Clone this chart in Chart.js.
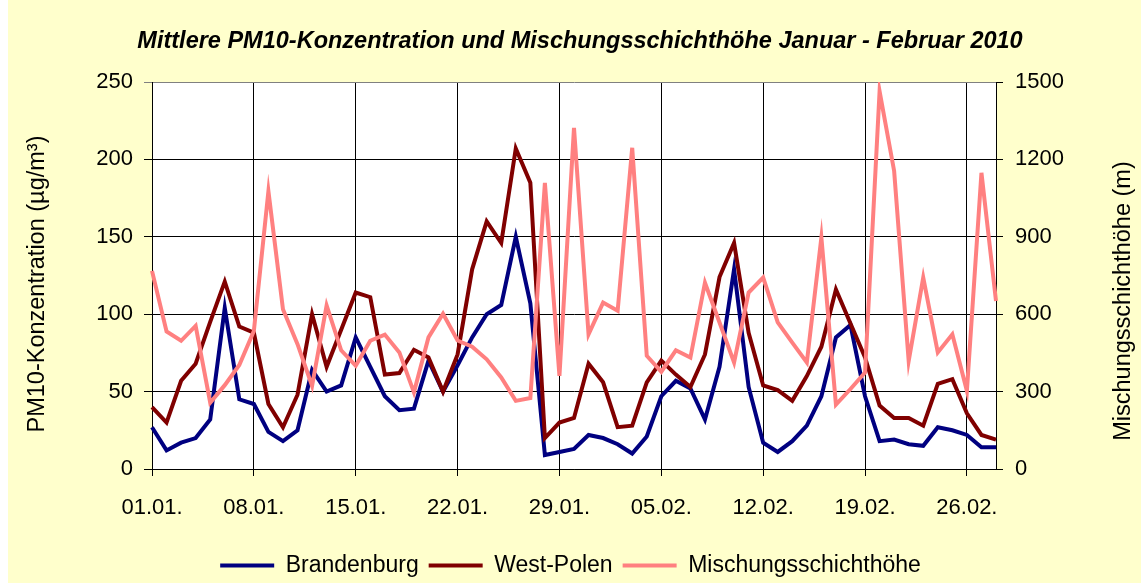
<!DOCTYPE html>
<html lang="de">
<head>
<meta charset="utf-8">
<title>PM10-Konzentration und Mischungsschichthöhe</title>
<script src="https://cdn.jsdelivr.net/npm/chart.js@4.4.1/dist/chart.umd.min.js"></script>
<style>
  html, body { margin: 0; padding: 0; background: #fff; }
  #wrap { width: 1141px; height: 583px; }
</style>
</head>
<body>
<div id="wrap"><canvas id="pmChart" width="1141" height="583"></canvas></div>
<script>
const days = [
  '01.01.', '02.01.', '03.01.', '04.01.', '05.01.', '06.01.', '07.01.', '08.01.', '09.01.', '10.01.',
  '11.01.', '12.01.', '13.01.', '14.01.', '15.01.', '16.01.', '17.01.', '18.01.', '19.01.', '20.01.',
  '21.01.', '22.01.', '23.01.', '24.01.', '25.01.', '26.01.', '27.01.', '28.01.', '29.01.', '30.01.',
  '31.01.', '01.02.', '02.02.', '03.02.', '04.02.', '05.02.', '06.02.', '07.02.', '08.02.', '09.02.',
  '10.02.', '11.02.', '12.02.', '13.02.', '14.02.', '15.02.', '16.02.', '17.02.', '18.02.', '19.02.',
  '20.02.', '21.02.', '22.02.', '23.02.', '24.02.', '25.02.', '26.02.', '27.02.', '28.02.'
];

// PM10 in µg/m³
const brandenburg = [
  27, 12, 17, 20, 32, 104, 45, 42, 24, 18,
  25, 64, 50, 54, 85, 66, 47, 38, 39, 70,
  50, 67, 85, 100, 106, 150, 107, 9, 11, 13,
  22, 20, 16, 10, 21, 47, 57, 52, 32, 66,
  129, 53, 17, 11, 18, 28, 47, 85, 93, 47,
  18, 19, 16, 15, 27, 25, 22, 14, 14
];
const westPolen = [
  40, 30, 57, 68, 95, 121, 92, 88, 42, 27,
  48, 100, 66, 90, 114, 111, 61, 62, 77, 72,
  50, 74, 129, 160, 146, 207, 185, 20, 30, 33,
  68, 56, 27, 28, 56, 70, 61, 53, 74, 124,
  146, 88, 54, 51, 44, 60, 79, 116, 94, 72,
  41, 33, 33, 28, 55, 58, 36, 22, 19
];
// Mischungsschichthöhe in m
const mischung = [
  768, 533, 497, 555, 257, 325, 403, 535, 1077, 619,
  484, 322, 634, 460, 400, 497, 521, 452, 297, 510,
  602, 498, 474, 425, 355, 264, 275, 1109, 361, 1322,
  522, 645, 613, 1245, 439, 377, 460, 432, 722, 568,
  413, 684, 742, 568, 490, 413, 897, 250, 310, 374,
  1464, 1155, 419, 742, 452, 522, 303, 1148, 651
];

const pmTicks = [0, 50, 100, 150, 200, 250];
const heightTicks = [0, 300, 600, 900, 1200, 1500];

const FONT = '"Liberation Sans", Arial, sans-serif';

// yellow chart area, white plot area
const backdrop = {
  id: 'backdrop',
  beforeDraw(chart) {
    const { ctx, chartArea: a } = chart;
    ctx.save();
    ctx.fillStyle = '#FFFFCC';
    ctx.fillRect(8, 0, chart.width - 8, chart.height);
    ctx.fillStyle = '#FFFFFF';
    ctx.fillRect(a.left, a.top, a.right - a.left, a.bottom - a.top);
    ctx.restore();
  }
};

// heading and both axis titles (these read bottom-to-top)
const chartTexts = {
  id: 'chartTexts',
  afterDraw(chart) {
    const { ctx } = chart;
    ctx.save();
    ctx.font = 'italic bold 23.5px ' + FONT;
    ctx.fillStyle = '#000';
    ctx.textAlign = 'center';
    ctx.textBaseline = 'middle';
    ctx.fillText('Mittlere PM10-Konzentration und Mischungsschichthöhe Januar - Februar 2010', 580, 42);
    ctx.restore();

    const put = (text, x, y) => {
      ctx.save();
      ctx.translate(x, y);
      ctx.rotate(-Math.PI / 2);
      ctx.font = '23.5px ' + FONT;
      ctx.fillStyle = '#000';
      ctx.textAlign = 'center';
      ctx.textBaseline = 'middle';
      ctx.fillText(text, 0, 0);
      ctx.restore();
    };
    put('PM10-Konzentration (µg/m³)', 38, 284);
    put('Mischungsschichthöhe (m)', chart.width - 17, 301);
  }
};

const lineSet = (label, data, color, axis, order) => ({
  label, data, yAxisID: axis, order,
  borderColor: color, backgroundColor: color,
  borderWidth: 4, pointRadius: 0, pointHoverRadius: 0,
  pointStyle: 'line', tension: 0, fill: false
});

new Chart(document.getElementById('pmChart'), {
  type: 'line',
  data: {
    labels: days,
    datasets: [
      lineSet('Brandenburg', brandenburg, '#000080', 'y', 3),
      lineSet('West-Polen', westPolen, '#800000', 'y', 2),
      lineSet('Mischungsschichthöhe', mischung, '#FF8080', 'y2', 1)
    ]
  },
  options: {
    responsive: false,
    animation: false,
    devicePixelRatio: 1,
    // top leaves room for the heading; legend sits a little lower than the default bottom margin allows
    layout: { padding: { top: 82, left: 0, right: 0, bottom: -4 } },
    plugins: {
      title: { display: false },
      legend: {
        position: 'bottom',
        labels: {
          usePointStyle: true,
          pointStyleWidth: 54,
          padding: 10,
          color: '#000',
          font: { family: FONT, size: 23 },
          sort: (a, b) => a.datasetIndex - b.datasetIndex
        }
      },
      tooltip: { enabled: false }
    },
    scales: {
      x: {
        type: 'category',
        offset: false,
        afterFit: s => { s.height = 75; },
        border: { display: true, color: '#000', width: 1 },
        grid: {
          color: c => (c.index % 7 === 0 ? '#000' : 'rgba(0,0,0,0)'),
          lineWidth: 1,
          tickLength: 7
        },
        ticks: {
          autoSkip: false,
          maxRotation: 0,
          padding: 19,
          color: '#000',
          font: { family: FONT, size: 22 },
          callback: (v, i) => (i % 7 === 0 ? days[i] : '')
        }
      },
      y: {
        position: 'left',
        min: 0,
        max: 250,
        afterFit: s => { s.width = 152; },
        afterBuildTicks: s => { s.ticks = pmTicks.map(v => ({ value: v })); },
        border: { display: true, color: '#000', width: 1 },
        grid: {
          color: c => (c.tick && c.tick.value === 250 ? '#808080' : '#000'),
          lineWidth: 1,
          tickLength: 8
        },
        ticks: { padding: 11, color: '#000', font: { family: FONT, size: 22 }, callback: v => String(v) }
      },
      y2: {
        position: 'right',
        min: 0,
        max: 1500,
        afterFit: s => { s.width = 145; },
        afterBuildTicks: s => { s.ticks = heightTicks.map(v => ({ value: v })); },
        border: { display: true, color: '#000', width: 1 },
        grid: { drawOnChartArea: false, color: '#000', tickLength: 7 },
        ticks: { padding: 12, color: '#000', font: { family: FONT, size: 22 }, callback: v => String(v) }
      }
    }
  },
  plugins: [backdrop, chartTexts]
});
</script>
</body>
</html>
